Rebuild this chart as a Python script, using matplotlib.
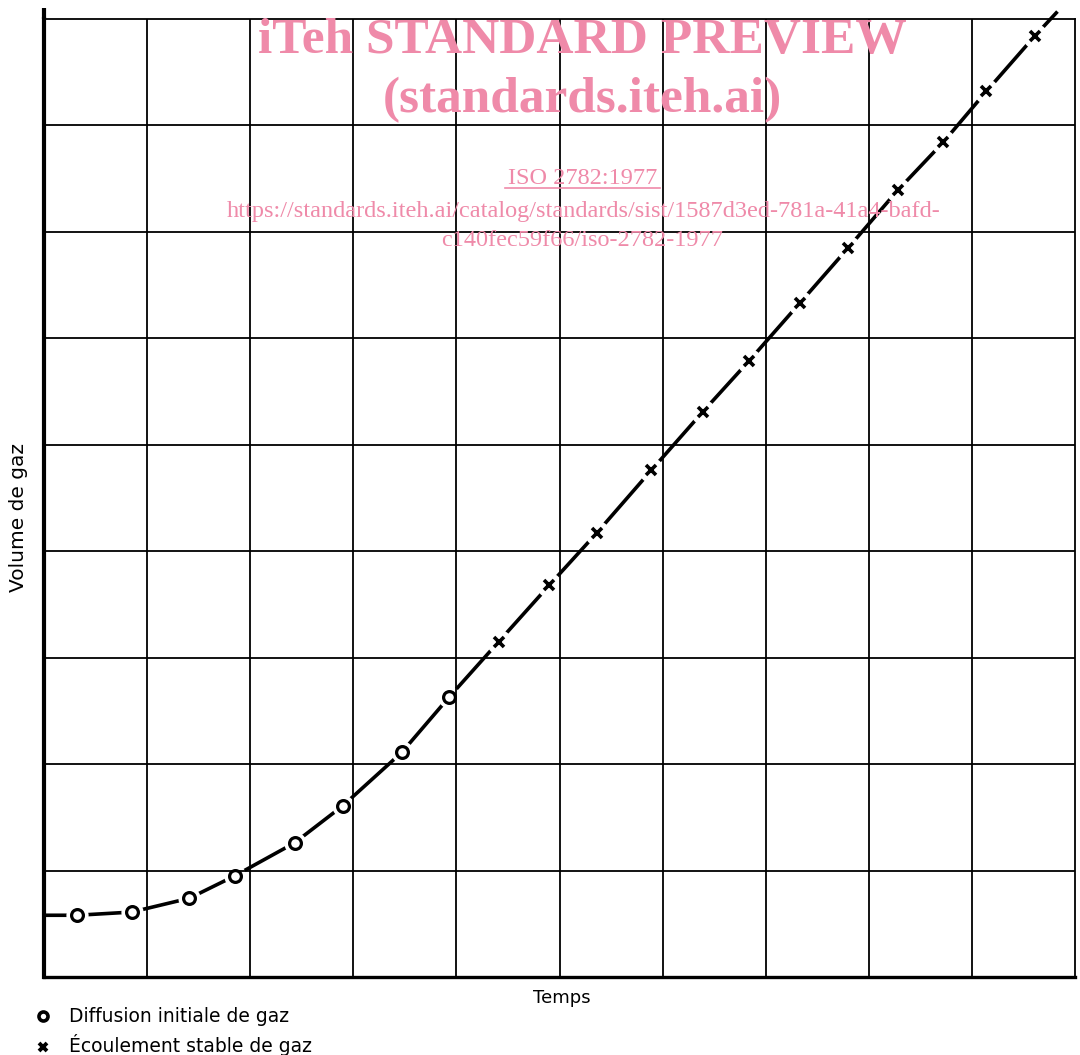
import matplotlib
matplotlib.use("Agg")
import matplotlib.pyplot as plt
from matplotlib.lines import Line2D

# ---- data (grid units) ----
diff_x = [0.32, 0.85, 1.41, 1.85, 2.43, 2.90, 3.47, 3.93]
diff_y = [0.58, 0.61, 0.74, 0.95, 1.26, 1.61, 2.11, 2.63]

flow_x = [4.41, 4.90, 5.36, 5.89, 6.39, 6.84, 7.33, 7.80, 8.28, 8.72, 9.14, 9.61]
flow_y = [3.15, 3.68, 4.17, 4.76, 5.31, 5.79, 6.33, 6.85, 7.39, 7.84, 8.32, 8.84]

curve_start = (0.0, 0.58)
curve_end = (9.83, 9.07)

x_label = "Temps"
y_label = "Volume de gaz"
legend_labels = ["Diffusion initiale de gaz", "Écoulement stable de gaz"]

W, H = 1080, 1055
fig = plt.figure(figsize=(W / 100, H / 100), dpi=100)
L, R, B, T = 44, 1075, 977, 19
ax = fig.add_axes([L / W, (H - B) / H, (R - L) / W, (B - T) / H])
ax.set_xlim(0, 10)
ax.set_ylim(0, 9)
ax.set_xticks([])
ax.set_yticks([])
for s in ["top", "right"]:
    ax.spines[s].set_linewidth(1.3)
ax.spines["left"].set_linewidth(3.0)
ax.spines["bottom"].set_linewidth(2.4)

# grid drawn above the white halos so halos only break the curve
for gx in range(1, 10):
    ax.axvline(gx, color="black", lw=1.3, zorder=4.5)
for gy in range(1, 9):
    ax.axhline(gy, color="black", lw=1.3, zorder=4.5)

# left axis extends a little above the frame
ax.plot([0, 0], [9, 9.1], color="black", lw=3.0, clip_on=False, solid_capstyle="butt")

# curve
cx = [curve_start[0]] + diff_x + flow_x + [curve_end[0]]
cy = [curve_start[1]] + diff_y + flow_y + [curve_end[1]]
ax.plot(cx, cy, color="black", lw=2.6, clip_on=False, zorder=3, solid_capstyle="butt")

# white halos around markers to break the line
ax.plot(diff_x, diff_y, "o", ms=16, mfc="white", mec="none", zorder=4)
ax.plot(flow_x, flow_y, "o", ms=18, mfc="white", mec="none", zorder=4)

ax.plot(diff_x, diff_y, "o", ms=8.5, mfc="white", mec="black", mew=2.3, zorder=5)
ax.plot(flow_x, flow_y, "x", ms=7, mec="black", mew=2.6, zorder=5)

font = ["DejaVu Sans"]
fig.text(562 / W, 1 - 998 / H, x_label, ha="center", va="center", fontsize=13, family=font)
fig.text(19 / W, 1 - 518 / H, y_label, ha="center", va="center", rotation=90, fontsize=14.5, family=font)

# legend
leg_ax = fig.add_axes([0, 0, 1, 1], facecolor="none")
leg_ax.set_xlim(0, W)
leg_ax.set_ylim(H, 0)
leg_ax.axis("off")
leg_ax.plot([43], [1016], "o", ms=6.5, mfc="white", mec="black", mew=2.6)
leg_ax.plot([43], [1047], "x", ms=6, mec="black", mew=2.8)
leg_ax.text(69, 1016, legend_labels[0], ha="left", va="center", fontsize=13.5, family=font)
leg_ax.text(69, 1045, legend_labels[1], ha="left", va="center", fontsize=13.5, family=font)

# watermark
pink = "#ef8aa9"
serif = ["Liberation Serif", "DejaVu Serif"]
fig.text(582 / W, 1 - 41 / H, "iTeh STANDARD PREVIEW", ha="center", va="center",
         fontsize=37, fontweight="bold", color=pink, family=serif, zorder=10)
fig.text(582 / W, 1 - 100 / H, "(standards.iteh.ai)", ha="center", va="center",
         fontsize=37, fontweight="bold", color=pink, family=serif, zorder=10)
fig.text(583 / W, 1 - 178 / H, "ISO 2782:1977", ha="center", va="center",
         fontsize=17.5, color=pink, family=serif, zorder=10)
fig.add_artist(Line2D([505 / W, 660 / W], [1 - 188 / H, 1 - 188 / H], color=pink, lw=1.2, zorder=10))
fig.text(584 / W, 1 - 211 / H,
         "https://standards.iteh.ai/catalog/standards/sist/1587d3ed-781a-41a4-bafd-",
         ha="center", va="center", fontsize=17.5, color=pink, family=serif, zorder=10)
fig.text(582 / W, 1 - 241 / H, "c140fec59f66/iso-2782-1977", ha="center", va="center",
         fontsize=17.5, color=pink, family=serif, zorder=10)

fig.savefig("out.png", dpi=100)
